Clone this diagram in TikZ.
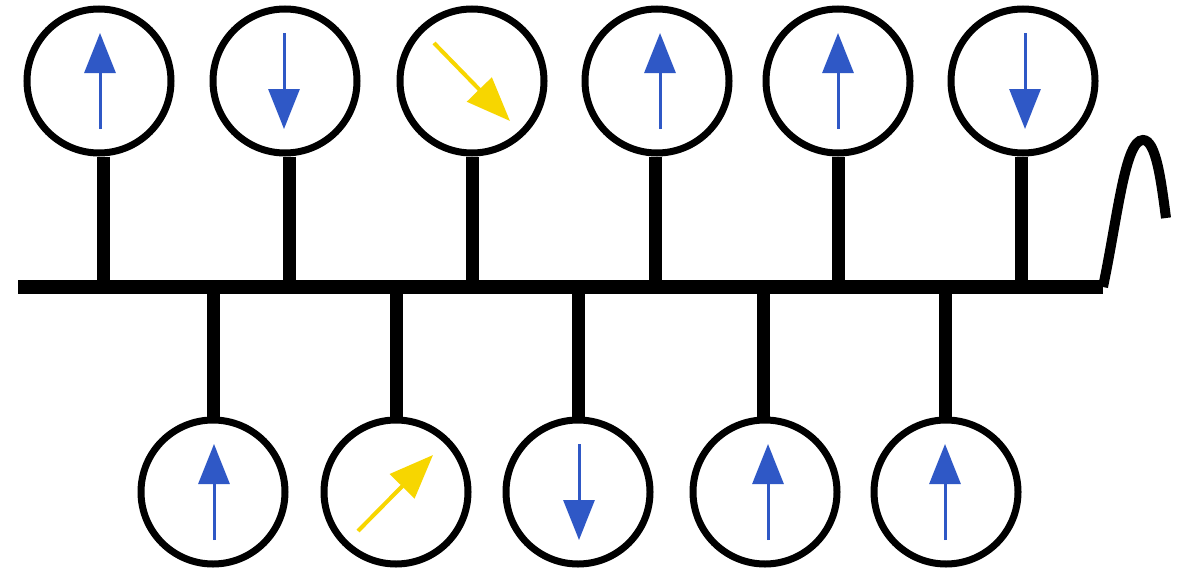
\documentclass[tikz,border=0pt]{standalone}
\usetikzlibrary{arrows.meta,calc}
\definecolor{spinblue}{HTML}{2F58C6}
\definecolor{spinyellow}{HTML}{F7D600}
\tikzset{
  spin/.style={circle,draw=black,line width=7pt,fill=white,minimum size=144pt,inner sep=0pt},
  stem/.style={line width=13pt},
  bus/.style={line width=14pt},
  bluearr/.style={draw=spinblue,line width=3pt,-{Triangle[length=40pt,width=31pt]},fill=spinblue},
  yelarr/.style={draw=spinyellow,line width=4pt,-{Triangle[length=44pt,width=34pt]},fill=spinyellow},
}
\begin{document}
\begin{tikzpicture}[x=1pt,y=-1pt]
\useasboundingbox (0,0) rectangle (1183,570);
\coordinate (busL) at (18,287);
\coordinate (busR) at (1103,287);
\coordinate (waveEnd) at (1166,218);
% junction points on the bus
\foreach \n/\x in {t1/103,t2/289,t3/472,t4/655,t5/838,t6/1021}{
  \coordinate (\n s) at (\x,287);
}
\foreach \n/\x in {b1/213,b2/396,b3/578,b4/763,b5/945}{
  \coordinate (\n s) at (\x,287);
}
% circles
\node[spin] (t1) at (99,81) {};
\node[spin] (t2) at (285,81) {};
\node[spin] (t3) at (472,81) {};
\node[spin] (t4) at (657,81) {};
\node[spin] (t5) at (838,81) {};
\node[spin] (t6) at (1023,81) {};
\node[spin] (b1) at (213,492) {};
\node[spin] (b2) at (396,492) {};
\node[spin] (b3) at (578,492) {};
\node[spin] (b4) at (765,492) {};
\node[spin] (b5) at (946,492) {};
% stems
\foreach \n in {t1,t2,t3,t4,t5,t6}{
  \draw[stem] (\n s |- \n.south) -- (\n s);
}
\foreach \n in {b1,b2,b3,b4,b5}{
  \draw[stem] (\n s |- \n.north) -- (\n s);
}
% bus and wave
\draw[bus] (busL) -- (busR);
\draw[line width=10pt,line join=miter] (busR) .. controls (1118,215) and (1125,140) .. (1143,140) .. controls (1156,140) and (1161,180) .. (waveEnd);
% arrows
\draw[bluearr] ($(t1)+(1,48)$) -- ($(t1)+(1,-48)$);
\draw[bluearr] ($(t2)+(-1,-48)$) -- ($(t2)+(-1,48)$);
\draw[yelarr] ($(t3)+(-38,-38)$) -- ($(t3)+(38,40)$);
\draw[bluearr] ($(t4)+(3,48)$) -- ($(t4)+(3,-48)$);
\draw[bluearr] ($(t5)+(0,48)$) -- ($(t5)+(0,-48)$);
\draw[bluearr] ($(t6)+(2,-48)$) -- ($(t6)+(2,48)$);
\draw[bluearr] ($(b1)+(1,48)$) -- ($(b1)+(1,-48)$);
\draw[yelarr] ($(b2)+(-38,39)$) -- ($(b2)+(37,-37)$);
\draw[bluearr] ($(b3)+(1,-48)$) -- ($(b3)+(1,48)$);
\draw[bluearr] ($(b4)+(3,48)$) -- ($(b4)+(3,-48)$);
\draw[bluearr] ($(b5)+(-1,48)$) -- ($(b5)+(-1,-48)$);
\end{tikzpicture}
\end{document}
